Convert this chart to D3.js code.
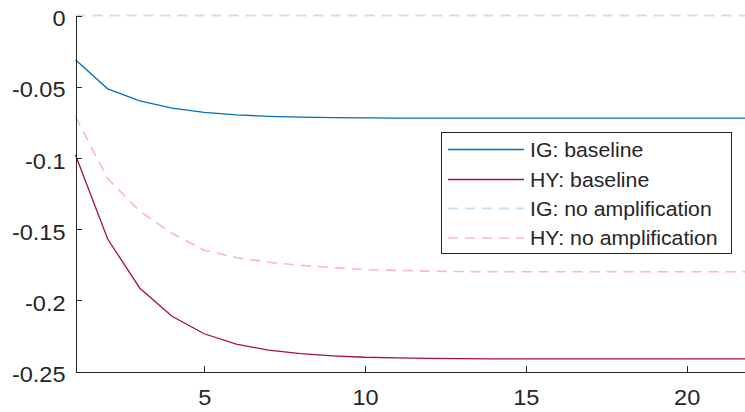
<!DOCTYPE html>
<html>
<head>
<meta charset="utf-8">
<script src="https://cdn.jsdelivr.net/npm/d3@7"></script>
<style>
  html, body { margin: 0; padding: 0; background: #fff; }
  svg { display: block; }
  text { font-family: "Liberation Sans", Arial, Helvetica, sans-serif; fill: #262626; }
</style>
</head>
<body>
<svg id="chart" width="745" height="412"></svg>
<script>
// ---- Data ----
const periods = d3.range(1, 23); // 1..22
const igBaseline = [-0.031, -0.0515, -0.060, -0.065, -0.068, -0.0698, -0.0708, -0.0714, -0.0717, -0.0719,
  -0.0720, -0.0720, -0.0720, -0.0720, -0.0720, -0.0720, -0.0720, -0.0720, -0.0720, -0.0720, -0.0720, -0.0720];
const hyBaseline = [-0.098, -0.157, -0.1915, -0.2112, -0.2235, -0.2308, -0.2350, -0.2375, -0.2390, -0.2400,
  -0.2405, -0.2408, -0.2410, -0.2411, -0.2412, -0.2412, -0.2412, -0.2412, -0.2412, -0.2412, -0.2412, -0.2412];
const igNoAmp = [0, 0, 0, 0, 0, 0, 0, 0, 0, 0, 0, 0, 0, 0, 0, 0, 0, 0, 0, 0, 0, 0];
const hyNoAmp = [-0.071, -0.1145, -0.1375, -0.1530, -0.1648, -0.1700, -0.1733, -0.1755, -0.1770, -0.1785,
  -0.1790, -0.1795, -0.1798, -0.1800, -0.1800, -0.1800, -0.1800, -0.1800, -0.1800, -0.1800, -0.1800, -0.1800];
const seriesNames = ["IG: baseline", "HY: baseline", "IG: no amplification", "HY: no amplification"];
const xTicks = [5, 10, 15, 20];
const yTicks = [0, -0.05, -0.1, -0.15, -0.2, -0.25];
const yTickLabels = ["0", "-0.05", "-0.1", "-0.15", "-0.2", "-0.25"];

// ---- Layout ----
const svg = d3.select("#chart");
const SX = 1.07;  // horizontal stretch of tick text in reference
const SXL = 1.09; // horizontal stretch of legend text
const x = d3.scaleLinear().domain([1, 22]).range([75.5, 751]);
const y = d3.scaleLinear().domain([-0.25, 0]).range([371.5, 15.5]);

const series = [
  { name: seriesNames[0], values: igBaseline, color: "#0072BD", dash: null, width: 1.3 },
  { name: seriesNames[1], values: hyBaseline, color: "#A2142F", dash: null, width: 1.3 },
  { name: seriesNames[2], values: igNoAmp, color: "#C6E2F8", dash: "10,7", width: 1.8 },
  { name: seriesNames[3], values: hyNoAmp, color: "#FFB6C4", dash: "10,7", width: 1.6 }
];

const line = d3.line().x((d, i) => x(periods[i])).y(d => y(d));

// lines (draw dashed first so solid on top)
const lineOrder = [2, 3, 0, 1];
svg.append("g").selectAll("path")
  .data(lineOrder.map(i => series[i]))
  .join("path")
  .attr("d", s => line(s.values))
  .attr("fill", "none")
  .attr("stroke", s => s.color)
  .attr("stroke-width", s => s.width)
  .attr("stroke-dasharray", s => s.dash);

// axes
const axisColor = "#262626";
const yAxis = d3.axisLeft(y).tickValues(yTicks).tickSizeInner(-6.5).tickSizeOuter(0)
  .tickFormat((d, i) => yTickLabels[i]);
const gy = svg.append("g").attr("transform", `translate(${x(1)},0)`).call(yAxis);
gy.select(".domain").attr("stroke", axisColor).attr("stroke-width", 1);
gy.selectAll(".tick line").attr("stroke", axisColor);
gy.selectAll(".tick text")
  .attr("font-size", 22)
  .attr("x", -10 / SX)
  .attr("dy", "0.46em")
  .attr("transform", `scale(${SX},1)`)
  .attr("fill", axisColor);

const xAxis = d3.axisBottom(x).tickValues(xTicks).tickSizeInner(-6).tickSizeOuter(0)
  .tickFormat(d3.format("d"));
const gx = svg.append("g").attr("transform", `translate(0,${y(-0.25)})`).call(xAxis);
gx.select(".domain").attr("stroke", axisColor).attr("stroke-width", 1);
gx.selectAll(".tick line").attr("stroke", axisColor);
gx.selectAll(".tick text")
  .attr("font-size", 22)
  .attr("y", 34)
  .attr("dy", 0)
  .attr("transform", `scale(${SX},1)`)
  .attr("fill", axisColor);
svg.selectAll(".domain, .tick line").attr("shape-rendering", "crispEdges");

// legend
const lg = svg.append("g");
lg.append("rect")
  .attr("x", 441.5).attr("y", 132.5).attr("width", 290).attr("height", 121)
  .attr("fill", "#fff").attr("stroke", axisColor).attr("stroke-width", 1);
const rowY = [149.5, 179.5, 208.5, 238];
const items = lg.selectAll("g.item").data(series).join("g").attr("class", "item")
  .attr("transform", (d, i) => `translate(0,${rowY[i]})`);
items.append("line")
  .attr("x1", 448).attr("x2", 524).attr("y1", 0).attr("y2", 0)
  .attr("stroke", d => d.color).attr("stroke-width", d => d.width)
  .attr("stroke-dasharray", d => d.dash);
items.append("text")
  .attr("x", 530 / SXL).attr("y", 0).attr("dy", "0.36em")
  .attr("font-size", 19.5)
  .attr("transform", `scale(${SXL},1)`)
  .text(d => d.name);
</script>
</body>
</html>
